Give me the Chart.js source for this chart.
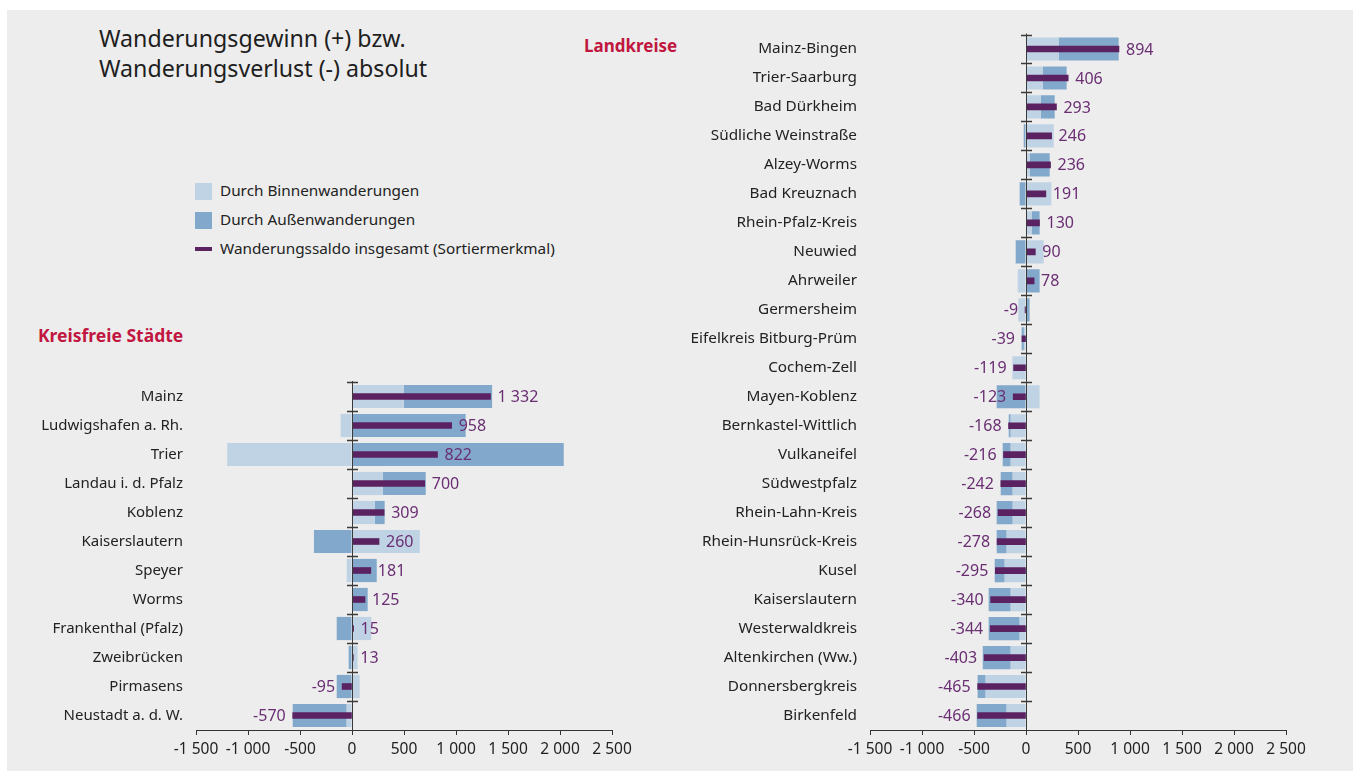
<!DOCTYPE html>
<html lang="de">
<head>
<meta charset="utf-8">
<title>Wanderungsgewinn bzw. Wanderungsverlust</title>
<script src="https://cdn.jsdelivr.net/npm/chart.js@4.4.1/dist/chart.umd.min.js"></script>
<style>
  body { margin: 0; background: #fff; font-family: "Noto Sans", sans-serif; }
  #page { position: absolute; left: 7px; top: 10px; width: 1346px; height: 761px; background: #ededed; }
  .abs { position: absolute; white-space: nowrap; }
  #title { left: 92px; top: 13px; font-size: 23.2px; line-height: 30px; color: #1e1e1e; }
  .head { font-weight: bold; color: #c0163f; }
  .leg { font-size: 15.3px; color: #222; }
  .sw { position: absolute; width: 17px; height: 17px; }
  canvas { position: absolute; }
</style>
</head>
<body>
<div id="page">
  <div id="title" class="abs">Wanderungsgewinn (+) bzw.<br>Wanderungsverlust (-) absolut</div>
  <div class="abs head" style="left:31px; top:313px; font-size:17.5px;">Kreisfreie Städte</div>
  <div class="abs head" style="left:577px; top:24px; font-size:17px;">Landkreise</div>

  <div class="sw" style="left:188px; top:173px; background:#c0d3e4;"></div>
  <div class="abs leg" style="left:213px; top:170px;">Durch Binnenwanderungen</div>
  <div class="sw" style="left:188px; top:202px; background:#82a9cb;"></div>
  <div class="abs leg" style="left:213px; top:199px;">Durch Außenwanderungen</div>
  <div class="sw" style="left:188px; top:237px; height:4px; background:#5b2262;"></div>
  <div class="abs leg" style="left:213px; top:228px;">Wanderungssaldo insgesamt (Sortiermerkmal)</div>
</div>
<canvas id="cityChart" width="660" height="411" style="left:0; top:360px;"></canvas>
<canvas id="districtChart" width="676" height="751" style="left:680px; top:20px;"></canvas>

<script>
// Kreisfreie Städte
const cities = ['Mainz', 'Ludwigshafen a. Rh.', 'Trier', 'Landau i. d. Pfalz', 'Koblenz', 'Kaiserslautern',
  'Speyer', 'Worms', 'Frankenthal (Pfalz)', 'Zweibrücken', 'Pirmasens', 'Neustadt a. d. W.'];
const cityBinnen = [497, -109, -1200, 295, 219, 652, -51, 0, 186, 54, 74, -51];
const cityAussen = [850, 1093, 2036, 414, 95, -366, 238, 151, -147, -32, -147, -519];
const citySaldo = [1332, 958, 822, 700, 309, 260, 181, 125, 15, 13, -95, -570];

// Landkreise
const districts = ['Mainz-Bingen', 'Trier-Saarburg', 'Bad Dürkheim', 'Südliche Weinstraße', 'Alzey-Worms',
  'Bad Kreuznach', 'Rhein-Pfalz-Kreis', 'Neuwied', 'Ahrweiler', 'Germersheim', 'Eifelkreis Bitburg-Prüm',
  'Cochem-Zell', 'Mayen-Koblenz', 'Bernkastel-Wittlich', 'Vulkaneifel', 'Südwestpfalz', 'Rhein-Lahn-Kreis',
  'Rhein-Hunsrück-Kreis', 'Kusel', 'Kaiserslautern', 'Westerwaldkreis', 'Altenkirchen (Ww.)',
  'Donnersbergkreis', 'Birkenfeld'];
const districtBinnen = [314, 160, 141, 266, 35, 244, 54, 170, -80, -74, -20, -131, 131, -147, -147, -128,
  -128, -186, -205, -147, -61, -147, -388, -186];
const districtAussen = [577, 231, 135, -22, 193, -61, 77, -99, 131, 35, -22, 0, -282, -19, -77, -115,
  -154, -96, -96, -212, -298, -269, -77, -288];
const districtSaldo = [894, 406, 293, 246, 236, 191, 130, 90, 78, -9, -39, -119, -123, -168, -216, -242,
  -268, -278, -295, -340, -344, -403, -465, -466];

const xMin = -1500, xMax = 2500, xStep = 500;

const colBinnen = '#c0d3e4';
const colAussen = '#82a9cb';
const colSaldo = '#5b2262';
const colLabel = '#6a2e73';

function fmt(v) {
  let s = Math.abs(v).toString().replace(/\B(?=(\d{3})+(?!\d))/g, ' ');
  return (v < 0 ? '-' : '') + s;
}

// zero line with small ticks between the rows, plus the saldo numbers
const saldoPlugin = {
  id: 'saldoPlugin',
  afterDatasetsDraw(chart) {
    const ctx = chart.ctx;
    const area = chart.chartArea;
    const x0 = chart.scales.x.getPixelForValue(0);
    const n = chart.data.labels.length;
    const rowH = (area.bottom - area.top) / n;
    ctx.save();
    ctx.strokeStyle = '#3a3a3a';
    ctx.lineWidth = 1;
    ctx.beginPath();
    ctx.moveTo(Math.round(x0) + 0.5, area.top - 1);
    ctx.lineTo(Math.round(x0) + 0.5, area.bottom);
    ctx.stroke();
    ctx.lineWidth = 1.5;
    for (let i = 0; i < n; i++) {
      const y = Math.round(area.top + i * rowH) + 0.5;
      ctx.beginPath();
      ctx.moveTo(x0 - 5, y);
      ctx.lineTo(x0 + 6, y);
      ctx.stroke();
    }
    // labels
    const meta = chart.getDatasetMeta(0);
    const values = chart.data.datasets[0].data;
    ctx.fillStyle = colLabel;
    ctx.font = '16px "Noto Sans"';
    ctx.textBaseline = 'middle';
    meta.data.forEach(function (bar, i) {
      const v = values[i];
      if (v >= 0) {
        ctx.textAlign = 'left';
        ctx.fillText(fmt(v), bar.x + 7, bar.y + 1);
      } else {
        ctx.textAlign = 'right';
        ctx.fillText(fmt(v), bar.x - 7, bar.y + 1);
      }
    });
    ctx.restore();
  }
};

function createChart(canvasId, labels, binnen, aussen, saldo, yWidth, pad, labelSize) {
  new Chart(document.getElementById(canvasId), {
    type: 'bar',
    data: {
      labels: labels,
      datasets: [
        { label: 'Wanderungssaldo insgesamt', data: saldo, backgroundColor: colSaldo,
          stack: 's', grouped: false, barThickness: 6, order: 0 },
        { label: 'Durch Binnenwanderungen', data: binnen, backgroundColor: colBinnen,
          stack: 'a', grouped: false, categoryPercentage: 1, barPercentage: 0.8, order: 1 },
        { label: 'Durch Außenwanderungen', data: aussen, backgroundColor: colAussen,
          stack: 'a', grouped: false, categoryPercentage: 1, barPercentage: 0.8, order: 1 }
      ]
    },
    options: {
      indexAxis: 'y',
      responsive: false,
      animation: false,
      layout: { padding: pad },
      plugins: {
        legend: { display: false },
        tooltip: { enabled: false }
      },
      scales: {
        x: {
          stacked: true,
          min: xMin,
          max: xMax,
          ticks: {
            stepSize: xStep,
            color: '#222',
            font: { family: 'Noto Sans', size: 15.5 },
            padding: 5,
            maxRotation: 0,
            callback: function (v) { return fmt(v); }
          },
          grid: { drawOnChartArea: false, drawTicks: true, tickLength: 5, color: '#333' },
          border: { display: true, color: '#333' },
          afterFit: function (s) { s.height = 30; s.paddingLeft = 0; s.paddingRight = 0; }
        },
        y: {
          stacked: true,
          grid: { display: false },
          border: { display: false },
          ticks: {
            color: '#222',
            font: { family: 'Noto Sans', size: labelSize },
            padding: 5
          },
          afterFit: function (s) { s.width = yWidth; s.paddingTop = 0; s.paddingBottom = 0; }
        }
      }
    },
    plugins: [saldoPlugin]
  });
}

createChart('cityChart', cities, cityBinnen, cityAussen, citySaldo, 196,
  { top: 22, right: 48, bottom: 11, left: 0 }, 15);
createChart('districtChart', districts, districtBinnen, districtAussen, districtSaldo, 190,
  { top: 14.5, right: 70, bottom: 11, left: 0 }, 15.3);
</script>
</body>
</html>
